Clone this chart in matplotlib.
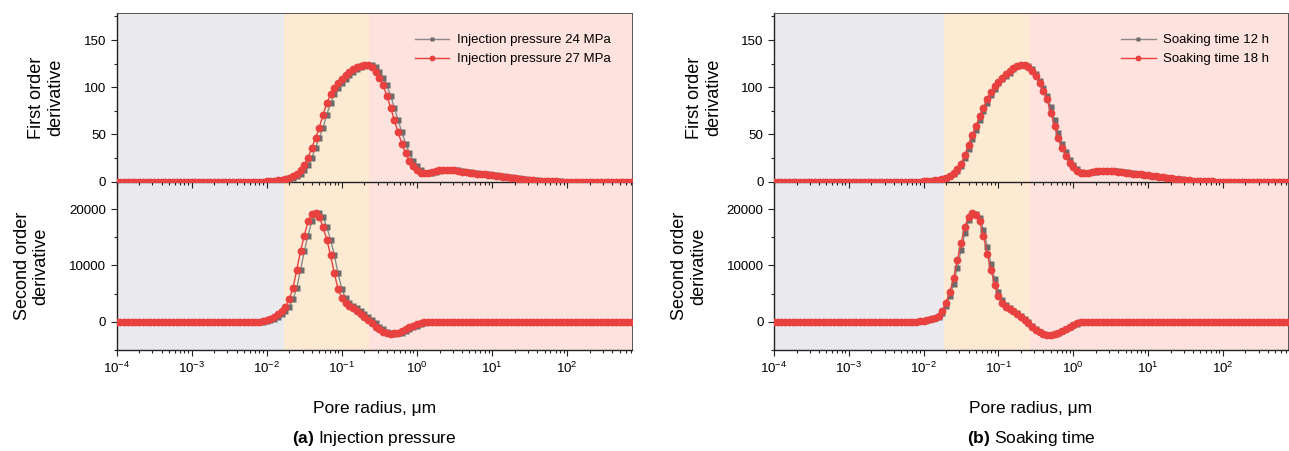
import numpy as np
import matplotlib.pyplot as plt
from matplotlib.ticker import LogLocator, LogFormatterSciNotation, MultipleLocator, NullFormatter

plt.rcParams['font.family'] = ['Liberation Sans', 'DejaVu Sans']
plt.rcParams['mathtext.fontset'] = 'custom'
plt.rcParams['mathtext.rm'] = 'Liberation Sans'
plt.rcParams['mathtext.bf'] = 'Liberation Sans:bold'

# pore radius bins (log10 of um), 0.05 decade apart
log_r = np.linspace(-4.0, 2.85, 138)
radius = 10 ** log_r

# ---- (a) injection pressure ----
# first order derivative, 27 MPa
p27_d1 = [0.0] * 40 + [
    0.2, 0.4, 0.7, 1.2, 1.8, 2.8, 4.2, 6, 8.5, 12,
    17, 25, 36, 46, 57, 71, 83, 92.5, 99, 105,
    109, 112.5, 116, 119, 121, 123, 124, 124, 121, 116.5,
    110, 102, 91, 78, 65, 52, 40, 30, 22, 16,
    12, 9.5, 9, 9.5, 10.5, 11.5, 12.3, 12.6, 12.6, 12.3,
    11.8, 11.2, 10.6, 10, 9.5, 9, 8.5, 8, 7.5, 7,
    6.5, 6, 5.5, 5, 4.5, 4, 3.5, 3, 2.5, 2,
    1.6, 1.2, 0.9, 0.6, 0.4, 0.25, 0.12, 0.05] + [0.0] * 20
# first order derivative, 24 MPa
p24_d1 = [0.0] * 41 + [
    0.2, 0.4, 0.7, 1.2, 1.8, 2.8, 4.2, 6, 8.5, 12,
    17, 25, 36, 46, 57, 71, 83, 92.5, 99, 105,
    109, 112.5, 116, 119, 121, 123, 124, 124, 121, 116.5,
    110, 102, 91, 78, 65, 52, 40, 30, 22, 16,
    12, 9.5, 9, 9.5, 10.5, 11.5, 12.3, 12.6, 12.6, 12.3,
    11.8, 11.2, 10.6, 10, 9.5, 9, 8.5, 8, 7.5, 7,
    6.5, 6, 5.5, 5, 4.5, 4, 3.5, 3, 2.5, 2,
    1.6, 1.2, 0.9, 0.6, 0.4, 0.25, 0.12, 0.05] + [0.0] * 19
# second order derivative, 27 MPa
p27_d2 = [0.0] * 38 + [
    50, 150, 300, 500, 800, 1400, 2000, 2700, 4000, 6000,
    9200, 12500, 15300, 17800, 19100, 19300, 18600, 16800, 14600, 11800,
    8600, 5800, 4200, 3400, 2850, 2400, 1950, 1450, 900, 350,
    -250, -850, -1350, -1750, -2000, -2100, -2050, -1900, -1650, -1350,
    -1000, -700, -400, -180, -60] + [0.0] * 55
# second order derivative, 24 MPa
p24_d2 = [0.0] * 39 + [
    50, 150, 300, 500, 800, 1400, 2000, 2700, 4000, 6000,
    9200, 12500, 15300, 17800, 19100, 19300, 18600, 16800, 14600, 11800,
    8600, 5800, 4200, 3400, 2850, 2400, 1950, 1450, 900, 350,
    -250, -850, -1350, -1750, -2000, -2100, -2050, -1900, -1650, -1350,
    -1000, -700, -400, -180, -60] + [0.0] * 54

# ---- (b) soaking time ----
s18_d1 = [0.0] * 40 + [
    0.2, 0.4, 0.7, 1.2, 1.8, 2.8, 4.2, 6.2, 9, 13,
    18.5, 28, 39, 49, 59, 69, 78, 87, 95, 101,
    106, 110, 113.5, 117, 120.5, 123, 124, 124, 121, 117,
    111.5, 104, 96, 87, 73, 59, 46, 36, 27.5, 20,
    15, 11.5, 9.5, 8.8, 9.2, 10, 10.7, 11, 11.2, 11.2,
    11.1, 10.9, 10.5, 10, 9.5, 9, 8.5, 8, 7.5, 7,
    6.5, 6, 5.5, 5, 4.5, 4, 3.5, 3, 2.5, 2,
    1.6, 1.2, 0.9, 0.6, 0.4, 0.25, 0.12, 0.05] + [0.0] * 20
s12_d1 = [0.0] * 40 + [
    0.1, 0.3, 0.6, 1.0, 1.5, 2.4, 3.6, 5.4, 8, 11.5,
    16.5, 24.5, 34.5, 45, 55, 65, 74.5, 83.5, 92, 98.5,
    104, 108.5, 112, 115.5, 119, 122, 123.5, 124, 123, 119,
    114, 107, 99, 90.5, 79, 65, 51.5, 40, 31, 23,
    17, 13, 10.3, 9, 8.7, 9.6, 10.4, 10.9, 11.1, 11.2,
    11.1, 11, 10.7, 10.2, 9.7, 9.2, 8.7, 8.2, 7.7, 7.2,
    6.7, 6.2, 5.7, 5.2, 4.7, 4.2, 3.7, 3.2, 2.7, 2.2,
    1.8, 1.4, 1.0, 0.7, 0.5, 0.35, 0.2, 0.08] + [0.0] * 20
s18_d2 = [0.0] * 38 + [
    50, 100, 200, 320, 480, 700, 1100, 2000, 3400, 5300,
    7700, 10900, 13900, 16900, 18600, 19300, 19000, 17800, 15200, 12100,
    9200, 6600, 4500, 3300, 2700, 2250, 1850, 1400, 900, 350,
    -250, -850, -1400, -1850, -2150, -2300, -2300, -2150, -1900, -1600,
    -1250, -900, -550, -250, -80] + [0.0] * 55
s12_d2 = [0.0] * 38 + [
    30, 70, 150, 260, 420, 610, 940, 1650, 2850, 4550,
    6750, 9600, 12700, 15700, 18000, 19100, 19200, 18400, 16300, 13300,
    10300, 7600, 5300, 3800, 3000, 2450, 2000, 1550, 1050, 500,
    -100, -700, -1250, -1750, -2100, -2280, -2320, -2200, -1950, -1650,
    -1300, -950, -600, -300, -100] + [0.0] * 55

# pore classes shaded behind the curves: (left, right) bounds in um
zones_a = [(1e-4, 0.0168), (0.0168, 0.23), (0.23, 1e3)]
zones_b = [(1e-4, 0.0188), (0.0188, 0.26), (0.26, 1e3)]
zone_colors = ['#E9E9EE', '#FDEAD3', '#FEE2DD']

panels = [
    dict(left=116.5, width=516, zones=zones_a,
         d1=(p24_d1, p27_d1), d2=(p24_d2, p27_d2),
         names=('Injection pressure 24 MPa', 'Injection pressure 27 MPa'),
         tag='(a)', title='Injection pressure', leg_x=0.958),
    dict(left=774, width=514, zones=zones_b,
         d1=(s12_d1, s18_d1), d2=(s12_d2, s18_d2),
         names=('Soaking time 12 h', 'Soaking time 18 h'),
         tag='(b)', title='Soaking time', leg_x=0.964),
]

W, H = 1289, 451
fig = plt.figure(figsize=(W / 100, H / 100), dpi=100)

gray_kw = dict(color='#8A8A8A', marker='s', ms=4.8, mfc='#6B6B6B', mec='none', lw=1.0, zorder=3)
red_kw = dict(color='#E8413F', marker='o', ms=5.6, mfc='#E8413F', mec='none', lw=1.0, zorder=4)


def style_axis(ax, zones):
    for (lo, hi), c in zip(zones, zone_colors):
        ax.axvspan(lo, hi, color=c, lw=0, zorder=0)
    ax.set_xscale('log')
    ax.set_xlim(1e-4, 10 ** 2.87)
    ax.xaxis.set_major_locator(LogLocator(base=10, numticks=12))
    ax.xaxis.set_minor_locator(LogLocator(base=10, subs=np.arange(2, 10), numticks=12))
    ax.tick_params(which='both', direction='out', labelsize=9.6, width=0.8, color='#222222')
    ax.tick_params(which='major', length=4)
    ax.tick_params(which='minor', length=2.2)
    for side in ['top', 'right']:
        ax.spines[side].set_color('#555555')
        ax.spines[side].set_linewidth(0.7)
    for side in ['left', 'bottom']:
        ax.spines[side].set_color('#222222')
        ax.spines[side].set_linewidth(1.0)


for p in panels:
    l = p['left'] / W
    w = p['width'] / W
    ax1 = fig.add_axes([l, 1 - 182 / H, w, 169 / H])
    ax2 = fig.add_axes([l, 1 - 350 / H, w, 168 / H])
    ax1.set_zorder(3)

    style_axis(ax1, p['zones'])
    style_axis(ax2, p['zones'])

    g1, r1 = p['d1']
    g2, r2 = p['d2']
    ax1.plot(radius, g1, label=p['names'][0], **gray_kw)
    ax1.plot(radius, r1, label=p['names'][1], **red_kw)
    ax2.plot(radius, g2, **gray_kw)
    ax2.plot(radius, r2, **red_kw)

    ax1.set_ylim(-0.5, 178.7)
    ax1.yaxis.set_major_locator(MultipleLocator(50))
    ax1.yaxis.set_minor_locator(MultipleLocator(25))
    ax1.xaxis.set_major_formatter(NullFormatter())

    ax2.set_ylim(-5000, 24800)
    ax2.yaxis.set_major_locator(MultipleLocator(10000))
    ax2.yaxis.set_minor_locator(MultipleLocator(5000))
    ax2.xaxis.set_major_formatter(LogFormatterSciNotation())

    ax1.set_ylabel('First order\nderivative', fontsize=13, linespacing=1.15, labelpad=14)
    ax2.set_ylabel('Second order\nderivative', fontsize=13, linespacing=1.15, labelpad=14)

    leg = ax1.legend(loc='upper right', bbox_to_anchor=(p['leg_x'], 0.875), frameon=False,
                     fontsize=9.5, handlelength=2.6, handletextpad=0.6, labelspacing=0.5,
                     borderpad=0, borderaxespad=0, markerscale=0.75)

    cx = (p['left'] + p['width'] / 2) / W
    fig.text(cx, 1 - 408 / H, 'Pore radius, μm', ha='center', va='center', fontsize=12.5)
    fig.text(cx, 1 - 438 / H, r'$\mathbf{' + p['tag'] + '}$ ' + p['title'],
             ha='center', va='center', fontsize=12.5)

fig.savefig('out.png', dpi=100)
